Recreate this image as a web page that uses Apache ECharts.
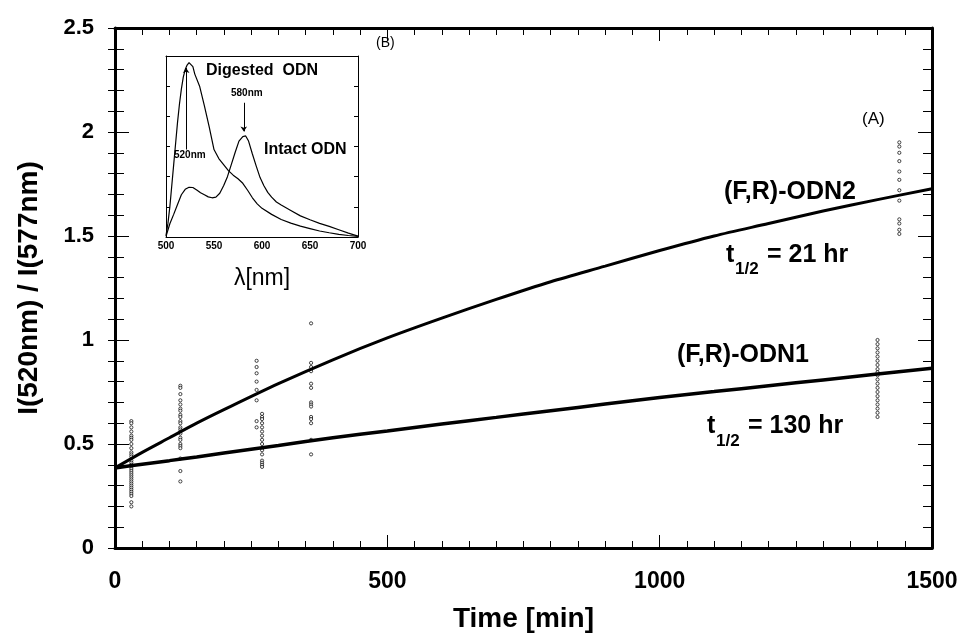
<!DOCTYPE html>
<html>
<head>
<meta charset="utf-8">
<script src="https://cdn.jsdelivr.net/npm/echarts@6/dist/echarts.min.js"></script>
<style>html,body{margin:0;padding:0;background:#fff}#c{width:962px;height:636px}</style>
</head>
<body>
<div id="c"></div>
<script>
// ---- main panel (A): fitted curves ----
var fitTime = [0, 50, 100, 150, 200, 300, 400, 500, 600, 700, 800, 900, 1000, 1100, 1200, 1300, 1400, 1500];
var odn2Fit = [0.385, 0.46, 0.53, 0.60, 0.665, 0.79, 0.905, 1.01, 1.105, 1.195, 1.28, 1.355, 1.43, 1.50, 1.56, 1.62, 1.675, 1.727];
var odn1Fit = [0.385, 0.403, 0.42, 0.438, 0.457, 0.493, 0.53, 0.563, 0.596, 0.628, 0.66, 0.692, 0.724, 0.752, 0.78, 0.808, 0.836, 0.864];

// ---- measured points (columns at sampling times) ----
var pts30 = [0.61, 0.60, 0.58, 0.56, 0.54, 0.53, 0.52, 0.50, 0.48, 0.46, 0.45, 0.44, 0.42, 0.41, 0.40, 0.39, 0.38, 0.37, 0.36, 0.35, 0.34, 0.33, 0.32, 0.31, 0.30, 0.29, 0.28, 0.27, 0.26, 0.25, 0.22, 0.20];
var pts120 = [0.78, 0.77, 0.74, 0.71, 0.69, 0.67, 0.66, 0.64, 0.63, 0.61, 0.60, 0.58, 0.57, 0.56, 0.55, 0.53, 0.52, 0.50, 0.49, 0.48, 0.43, 0.37, 0.32];
var pts260 = [0.90, 0.87, 0.84, 0.80, 0.76, 0.71, 0.61, 0.58];
var pts270 = [0.645, 0.63, 0.62, 0.60, 0.58, 0.56, 0.54, 0.52, 0.50, 0.48, 0.47, 0.45, 0.42, 0.41, 0.40, 0.39];
var pts360 = [1.08, 0.89, 0.87, 0.85, 0.79, 0.77, 0.70, 0.69, 0.68, 0.63, 0.62, 0.60, 0.52, 0.45];
var pts1400 = [1.00, 0.98, 0.96, 0.94, 0.92, 0.90, 0.88, 0.86, 0.845, 0.83, 0.81, 0.79, 0.77, 0.75, 0.73, 0.71, 0.69, 0.67, 0.65, 0.63];
var pts1440 = [1.95, 1.93, 1.90, 1.86, 1.81, 1.77, 1.72, 1.67, 1.58, 1.56, 1.53, 1.51];
var sampleTimes = [30, 120, 260, 270, 360, 1400, 1440];
var sampleCols = [pts30, pts120, pts260, pts270, pts360, pts1400, pts1440];

// ---- inset (B): emission spectra ----
var wlDig = [500, 502, 504, 506, 508, 510, 512, 514, 516, 518, 520, 522, 524, 526, 528, 530, 535, 540, 545, 550, 555, 560, 565, 570, 575, 580, 585, 590, 595, 600, 610, 620, 630, 640, 650, 660, 670, 680, 690, 700];
var digested = [0.05, 0.45, 1.0, 1.7, 2.4, 3.1, 3.8, 4.4, 4.9, 5.3, 5.55, 5.7, 5.78, 5.8, 5.65, 5.4, 5.0, 4.35, 3.65, 2.9, 2.6, 2.4, 2.2, 2.05, 1.93, 1.78, 1.55, 1.3, 1.1, 0.95, 0.75, 0.58, 0.46, 0.36, 0.28, 0.2, 0.14, 0.09, 0.05, 0.02];
var wlInt = [500, 504, 508, 512, 516, 520, 524, 528, 532, 536, 540, 544, 548, 552, 556, 560, 564, 568, 572, 576, 580, 583, 586, 590, 594, 598, 602, 606, 610, 615, 620, 630, 640, 650, 660, 670, 680, 690, 700];
var intact = [0.02, 0.44, 0.75, 1.08, 1.4, 1.58, 1.65, 1.64, 1.56, 1.47, 1.4, 1.33, 1.3, 1.32, 1.45, 1.7, 2.0, 2.4, 2.8, 3.18, 3.33, 3.35, 3.18, 2.75, 2.35, 1.97, 1.7, 1.48, 1.32, 1.16, 1.06, 0.88, 0.7, 0.57, 0.45, 0.35, 0.24, 0.13, 0.03];

var xTicks = [0, 500, 1000, 1500];
var yTicks = [0, 0.5, 1, 1.5, 2, 2.5];
var insetTicks = [500, 550, 600, 650, 700];

var FB = 'Liberation Sans, Arial, sans-serif';

function zip(a, b) { return a.map(function (v, i) { return [v, b[i]]; }); }

var scatterData = [];
sampleCols.forEach(function (col, i) {
  col.forEach(function (v) { scatterData.push([sampleTimes[i], v]); });
});

var chart = echarts.init(document.getElementById('c'), null, { renderer: 'canvas' });

var lineAx = { show: true, onZero: false, lineStyle: { color: '#000', width: 3 } };
var thinAx = { show: true, onZero: false, lineStyle: { color: '#000', width: 1 } };
var plain = function (v) { return String(v); };
var option = {
  animation: false,
  backgroundColor: '#fff',
  grid: [
    { left: 115, right: 30, top: 28, bottom: 88, outerBoundsMode: 'none', containLabel: false },
    { left: 166, top: 56, width: 192, height: 181, z: 5, outerBoundsMode: 'none', containLabel: false }
  ],
  xAxis: [
    {
      gridIndex: 0, type: 'value', min: xTicks[0], max: xTicks[xTicks.length - 1], interval: 500,
      axisLine: lineAx,
      axisTick: { show: true, inside: true, length: 13, lineStyle: { color: '#000', width: 1 } },
      minorTick: { show: true, splitNumber: 10, length: 7, lineStyle: { color: '#000', width: 1 } },
      splitLine: { show: false },
      axisLabel: { color: '#000', fontFamily: FB, fontWeight: 'bold', fontSize: 23, margin: 22, formatter: plain },
      name: 'Time [min]', nameLocation: 'middle', nameGap: 57,
      nameTextStyle: { color: '#000', fontFamily: FB, fontWeight: 'bold', fontSize: 28 }
    },
    {
      gridIndex: 0, type: 'value', position: 'top', min: 0, max: 1500, interval: 500,
      axisLine: lineAx,
      axisTick: { show: true, inside: true, length: 13, lineStyle: { color: '#000', width: 1 } },
      minorTick: { show: true, splitNumber: 10, length: 7, lineStyle: { color: '#000', width: 1 } },
      splitLine: { show: false }, axisLabel: { show: false }
    },
    {
      gridIndex: 1, type: 'value', min: insetTicks[0], max: insetTicks[insetTicks.length - 1], interval: 50,
      axisLine: thinAx,
      axisTick: { show: false }, splitLine: { show: false },
      axisLabel: { color: '#000', fontFamily: FB, fontWeight: 'bold', fontSize: 10, margin: 4, formatter: plain },
      name: 'λ[nm]', nameLocation: 'middle', nameGap: 30,
      nameTextStyle: { color: '#000', fontFamily: FB, fontSize: 23 }
    },
    {
      gridIndex: 1, type: 'value', position: 'top', min: 500, max: 700,
      axisLine: thinAx,
      axisTick: { show: false }, splitLine: { show: false }, axisLabel: { show: false }
    }
  ],
  yAxis: [
    {
      gridIndex: 0, type: 'value', min: yTicks[0], max: yTicks[yTicks.length - 1], interval: 0.5,
      axisLine: lineAx,
      axisTick: { show: true, inside: true, length: 14, lineStyle: { color: '#000', width: 1 } },
      minorTick: { show: true, splitNumber: 5, length: 9, lineStyle: { color: '#000', width: 1 } },
      splitLine: { show: false },
      axisLabel: { color: '#000', fontFamily: FB, fontWeight: 'bold', fontSize: 22, margin: 21, formatter: plain },
      name: 'I(520nm) / I(577nm)', nameLocation: 'middle', nameGap: 72,
      nameTextStyle: { color: '#000', fontFamily: FB, fontWeight: 'bold', fontSize: 28 }
    },
    {
      gridIndex: 0, type: 'value', position: 'right', min: 0, max: 2.5, interval: 0.5,
      axisLine: lineAx,
      axisTick: { show: true, inside: true, length: 14, lineStyle: { color: '#000', width: 1 } },
      minorTick: { show: true, splitNumber: 5, length: 9, lineStyle: { color: '#000', width: 1 } },
      splitLine: { show: false }, axisLabel: { show: false }
    },
    {
      gridIndex: 0, type: 'value', position: 'left', min: 0, max: 2.5, interval: 0.5,
      axisLine: { show: false },
      axisTick: { show: true, inside: false, length: 7, lineStyle: { color: '#000', width: 1 } },
      minorTick: { show: true, splitNumber: 5, length: 7, lineStyle: { color: '#000', width: 1 } },
      splitLine: { show: false }, axisLabel: { show: false }
    },
    {
      gridIndex: 1, type: 'value', min: 0, max: 6, interval: 1,
      axisLine: thinAx,
      axisTick: { show: true, inside: true, length: 4, lineStyle: { color: '#000', width: 1 } },
      splitLine: { show: false }, axisLabel: { show: false }
    },
    {
      gridIndex: 1, type: 'value', position: 'right', min: 0, max: 6, interval: 1,
      axisLine: thinAx,
      axisTick: { show: true, inside: true, length: 4, lineStyle: { color: '#000', width: 1 } },
      splitLine: { show: false }, axisLabel: { show: false }
    }
  ],
  series: [
    {
      type: 'scatter', xAxisIndex: 0, yAxisIndex: 0, data: scatterData,
      symbol: 'circle', symbolSize: 3.2,
      itemStyle: { color: '#fff', borderColor: '#000', borderWidth: 0.9 }, z: 3
    },
    {
      type: 'line', xAxisIndex: 0, yAxisIndex: 0, data: zip(fitTime, odn2Fit), smooth: 0.3,
      showSymbol: false, lineStyle: { color: '#000', width: 3 }, z: 4
    },
    {
      type: 'line', xAxisIndex: 0, yAxisIndex: 0, data: zip(fitTime, odn1Fit), smooth: 0.3,
      showSymbol: false, lineStyle: { color: '#000', width: 3.5 }, z: 4
    },
    {
      type: 'line', xAxisIndex: 2, yAxisIndex: 3, data: zip(wlDig, digested),
      showSymbol: false, lineStyle: { color: '#000', width: 1.2 }, z: 6,
      markLine: {
        silent: true, symbol: ['none', 'arrow'], symbolSize: 5,
        lineStyle: { color: '#000', width: 1, type: 'solid' }, label: { show: false },
        data: [
          [{ coord: [521, 2.9] }, { coord: [521, 5.6] }],
          [{ coord: [581, 4.45] }, { coord: [581, 3.5] }]
        ]
      }
    },
    {
      type: 'line', xAxisIndex: 2, yAxisIndex: 3, data: zip(wlInt, intact),
      showSymbol: false, lineStyle: { color: '#000', width: 1.2 }, z: 6
    }
  ],
  graphic: [
    { type: 'text', left: 206, top: 63, z: 100, style: { text: 'Digested  ODN', font: 'bold 16px ' + FB, fill: '#000' } },
    { type: 'text', left: 231, top: 88, z: 100, style: { text: '580nm', font: 'bold 10px ' + FB, fill: '#000' } },
    { type: 'text', left: 174, top: 150, z: 100, style: { text: '520nm', font: 'bold 10px ' + FB, fill: '#000' } },
    { type: 'text', left: 264, top: 142, z: 100, style: { text: 'Intact ODN', font: 'bold 16px ' + FB, fill: '#000' } },
    { type: 'text', left: 376, top: 36, z: 100, style: { text: '(B)', font: '14px ' + FB, fill: '#000' } },
    { type: 'text', left: 862, top: 111, z: 100, style: { text: '(A)', font: '17px ' + FB, fill: '#000' } },
    { type: 'text', left: 724, top: 180, z: 100, style: { text: '(F,R)-ODN2', font: 'bold 25px ' + FB, fill: '#000' } },
    { type: 'text', left: 677, top: 343, z: 100, style: { text: '(F,R)-ODN1', font: 'bold 25px ' + FB, fill: '#000' } },
    { type: 'text', left: 726, top: 243, z: 100, style: { text: 't', font: 'bold 25px ' + FB, fill: '#000' } },
    { type: 'text', left: 735, top: 261, z: 100, style: { text: '1/2', font: 'bold 17px ' + FB, fill: '#000' } },
    { type: 'text', left: 767, top: 243, z: 100, style: { text: '= 21 hr', font: 'bold 25px ' + FB, fill: '#000' } },
    { type: 'text', left: 707, top: 414, z: 100, style: { text: 't', font: 'bold 25px ' + FB, fill: '#000' } },
    { type: 'text', left: 716, top: 433, z: 100, style: { text: '1/2', font: 'bold 17px ' + FB, fill: '#000' } },
    { type: 'text', left: 748, top: 414, z: 100, style: { text: '= 130 hr', font: 'bold 25px ' + FB, fill: '#000' } }
  ]
};
chart.setOption(option);
</script>
</body>
</html>
